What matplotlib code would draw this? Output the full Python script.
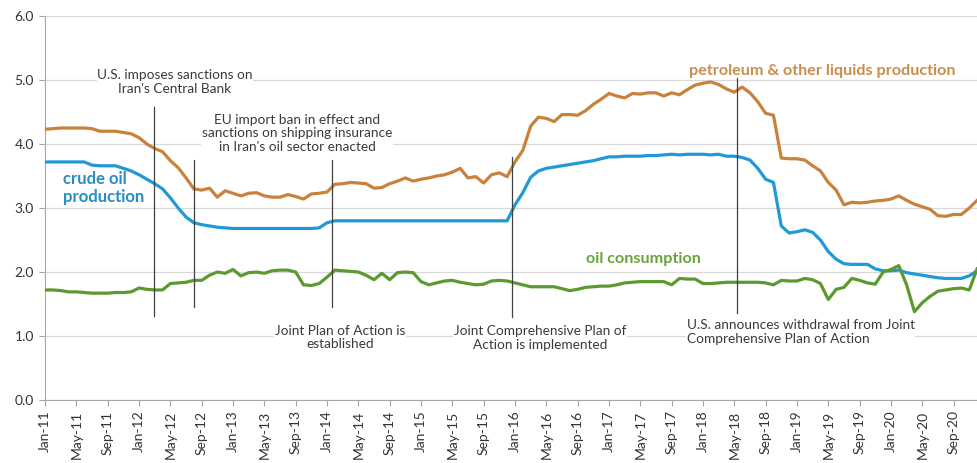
import numpy as np
import pandas as pd
import matplotlib
matplotlib.use("Agg")
import matplotlib.pyplot as plt

plt.rcParams["font.family"] = ["Lato", "DejaVu Sans"]

# monthly values, Jan-11 .. Dec-20 (million barrels per day)
months = pd.date_range("2011-01-01", periods=120, freq="MS")

petroleum = [
    4.23, 4.24, 4.25, 4.25, 4.25, 4.25, 4.24, 4.20, 4.20, 4.20, 4.18, 4.16,
    4.10, 4.00, 3.93, 3.88, 3.74, 3.63, 3.47, 3.30, 3.28, 3.31, 3.17, 3.27,
    3.23, 3.19, 3.23, 3.24, 3.19, 3.17, 3.17, 3.21, 3.18, 3.14, 3.22, 3.23,
    3.25, 3.37, 3.38, 3.40, 3.39, 3.38, 3.31, 3.32, 3.38, 3.42, 3.47, 3.42,
    3.45, 3.47, 3.50, 3.52, 3.56, 3.62, 3.47, 3.49, 3.39, 3.52, 3.55, 3.49,
    3.72, 3.90, 4.28, 4.42, 4.40, 4.35, 4.46, 4.46, 4.45, 4.52, 4.62, 4.70,
    4.79, 4.75, 4.72, 4.79, 4.78, 4.80, 4.80, 4.75, 4.80, 4.77, 4.85, 4.92,
    4.95, 4.97, 4.93, 4.86, 4.81, 4.89, 4.80, 4.66, 4.48, 4.45, 3.78, 3.77,
    3.77, 3.75, 3.66, 3.58, 3.40, 3.28, 3.05, 3.09, 3.08, 3.09, 3.11, 3.12,
    3.14, 3.19, 3.12, 3.06, 3.02, 2.98, 2.88, 2.87, 2.90, 2.90, 3.00, 3.12,
]

crude = [
    3.72, 3.72, 3.72, 3.72, 3.72, 3.72, 3.67, 3.66, 3.66, 3.66, 3.62, 3.58,
    3.52, 3.45, 3.38, 3.30, 3.16, 3.00, 2.86, 2.77, 2.74, 2.72, 2.70, 2.69,
    2.68, 2.68, 2.68, 2.68, 2.68, 2.68, 2.68, 2.68, 2.68, 2.68, 2.68, 2.69,
    2.77, 2.80, 2.80, 2.80, 2.80, 2.80, 2.80, 2.80, 2.80, 2.80, 2.80, 2.80,
    2.80, 2.80, 2.80, 2.80, 2.80, 2.80, 2.80, 2.80, 2.80, 2.80, 2.80, 2.80,
    3.05, 3.24, 3.48, 3.58, 3.62, 3.64, 3.66, 3.68, 3.70, 3.72, 3.74, 3.77,
    3.80, 3.80, 3.81, 3.81, 3.81, 3.82, 3.82, 3.83, 3.84, 3.83, 3.84, 3.84,
    3.84, 3.83, 3.84, 3.81, 3.81, 3.79, 3.75, 3.62, 3.45, 3.40, 2.72, 2.61,
    2.63, 2.66, 2.62, 2.50, 2.32, 2.20, 2.13, 2.12, 2.12, 2.12, 2.05, 2.02,
    2.02, 2.03, 1.99, 1.97, 1.95, 1.93, 1.91, 1.90, 1.90, 1.90, 1.94, 2.02,
]

consumption = [
    1.72, 1.72, 1.71, 1.69, 1.69, 1.68, 1.67, 1.67, 1.67, 1.68, 1.68, 1.69,
    1.75, 1.73, 1.72, 1.72, 1.82, 1.83, 1.84, 1.87, 1.87, 1.95, 2.00, 1.98,
    2.04, 1.94, 1.99, 2.00, 1.98, 2.02, 2.03, 2.03, 2.00, 1.80, 1.79, 1.82,
    1.92, 2.03, 2.02, 2.01, 2.00, 1.95, 1.88, 1.98, 1.88, 1.99, 2.00, 1.99,
    1.85, 1.80, 1.83, 1.86, 1.87, 1.84, 1.82, 1.80, 1.81, 1.86, 1.87, 1.86,
    1.83, 1.80, 1.77, 1.77, 1.77, 1.77, 1.74, 1.71, 1.73, 1.76, 1.77, 1.78,
    1.78, 1.80, 1.83, 1.84, 1.85, 1.85, 1.85, 1.85, 1.80, 1.90, 1.89, 1.89,
    1.82, 1.82, 1.83, 1.84, 1.84, 1.84, 1.84, 1.84, 1.83, 1.80, 1.87, 1.86,
    1.86, 1.90, 1.88, 1.82, 1.57, 1.73, 1.76, 1.90, 1.87, 1.83, 1.81, 2.00,
    2.04, 2.10, 1.80, 1.38, 1.52, 1.62, 1.70, 1.72, 1.74, 1.75, 1.72, 2.05,
]

# event markers: month position, line bottom, line top
event_pos = [13.9, 19.0, 36.7, 59.6, 88.3]
event_lo = [1.31, 1.45, 1.45, 1.30, 1.36]
event_hi = [4.58, 3.75, 3.75, 3.80, 5.03]

event_text = [
    "U.S. imposes sanctions on\nIran's Central Bank",
    "EU import ban in effect and\nsanctions on shipping insurance\nin Iran's oil sector enacted",
    "Joint Plan of Action is\nestablished",
    "Joint Comprehensive Plan of\nAction is implemented",
    "U.S. announces withdrawal from Joint\nComprehensive Plan of Action",
]
event_text_xy = [(16.6, 4.97), (32.2, 4.17), (37.7, 0.98), (63.2, 0.97), (81.9, 1.06)]
event_text_ha = ["center", "center", "center", "center", "left"]

orange = "#c8823c"
blue = "#1f9ad6"
green = "#5c9a30"

fig = plt.figure(figsize=(9.77, 4.63), dpi=100)
ax = fig.add_axes([0.0461, 0.136, 0.954, 0.8294])

x = np.arange(len(months))
ax.plot(x, petroleum, color=orange, lw=2.3, zorder=3)
ax.plot(x, crude, color=blue, lw=2.3, zorder=3)
ax.plot(x, consumption, color=green, lw=2.3, zorder=3)

for pos, lo, hi in zip(event_pos, event_lo, event_hi):
    ax.plot([pos, pos], [lo, hi], color="#404040", lw=0.9, zorder=4)

for txt, (tx, ty), ha in zip(event_text, event_text_xy, event_text_ha):
    ax.text(tx, ty, txt, ha=ha, va="center", fontsize=9.8, color="#3a3a3a",
            linespacing=1.15, zorder=5,
            bbox=dict(facecolor="white", edgecolor="none", pad=0.5))

ax.text(99.2, 5.14, "petroleum & other liquids production", ha="center", va="center",
        fontsize=11.6, fontweight="bold", color="#c98e4c")
ax.text(2.3, 3.31, "crude oil\nproduction", ha="left", va="center",
        fontsize=12, fontweight="bold", color="#2a8cc4", linespacing=1.15)
ax.text(76.4, 2.2, "oil consumption", ha="center", va="center",
        fontsize=11.6, fontweight="bold", color="#6aa33a")

ax.set_xlim(0, 119)
ax.set_ylim(0, 6)
ax.set_yticks(np.arange(0, 6.1, 1.0))
ax.set_yticklabels([f"{v:.1f}" for v in np.arange(0, 6.1, 1.0)])
ax.set_xticks(x[::4])
ax.set_xticklabels(months[::4].strftime("%b-%y"), rotation=90)

ax.grid(axis="y", color="#d9d9d9", lw=0.9)
ax.set_axisbelow(True)
for side in ["top", "right"]:
    ax.spines[side].set_visible(False)
for side in ["left", "bottom"]:
    ax.spines[side].set_color("#a6a6a6")
ax.tick_params(axis="both", colors="#a6a6a6", length=4, labelcolor="#333333", labelsize=10)
ax.tick_params(axis="y", pad=4)

fig.savefig("out.png", dpi=100)
